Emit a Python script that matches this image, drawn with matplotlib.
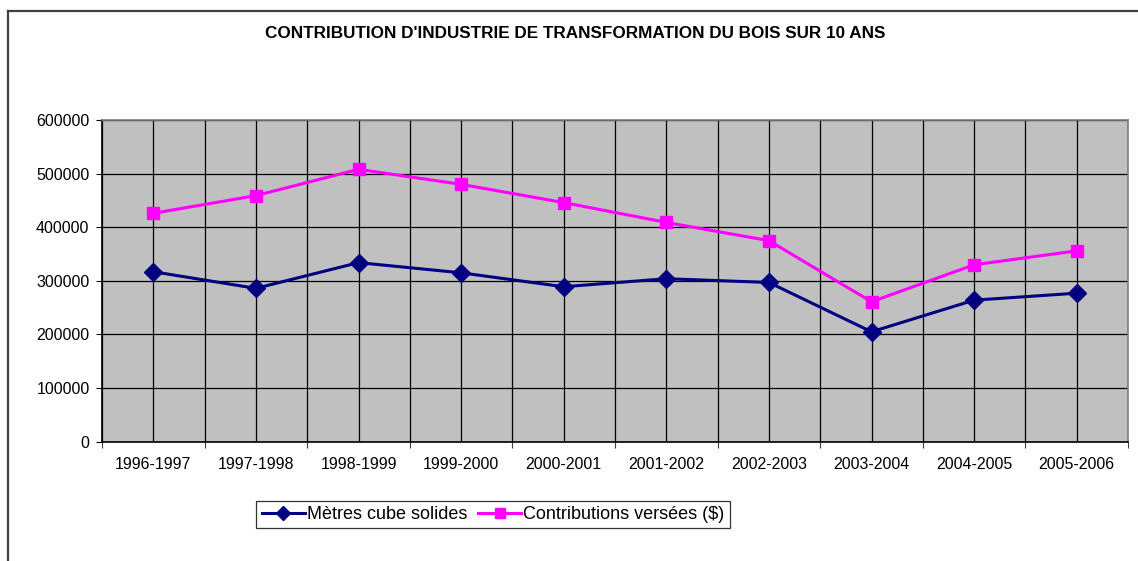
import matplotlib.pyplot as plt
from matplotlib.lines import Line2D
import numpy as np

plt.rcParams['font.family'] = ['Liberation Sans', 'DejaVu Sans']

# data
saisons = ['1996-1997', '1997-1998', '1998-1999', '1999-2000', '2000-2001',
           '2001-2002', '2002-2003', '2003-2004', '2004-2005', '2005-2006']
metres_cube = [317000, 286000, 334000, 315000, 289000, 304000, 297000, 205000, 264000, 277000]
contributions = [426000, 459000, 508000, 480000, 446000, 409000, 375000, 261000, 330000, 356000]
y_ticks = [0, 100000, 200000, 300000, 400000, 500000, 600000]

W, H = 1138, 561
fig = plt.figure(figsize=(W / 100, H / 100), dpi=100)
fig.patch.set_facecolor('white')

# chart area border (runs off the right and bottom edge)
fig.add_artist(Line2D([7.5 / W, 7.5 / W], [0, 1 - 10.5 / H], transform=fig.transFigure,
                      color='#404040', lw=1.6))
fig.add_artist(Line2D([7.5 / W, 1], [1 - 10.5 / H, 1 - 10.5 / H], transform=fig.transFigure,
                      color='#404040', lw=1.6))

ax = fig.add_axes([102 / W, 1 - 441.7 / H, 1026 / W, 321.7 / H])
ax.set_facecolor('#C0C0C0')

x = np.arange(len(saisons))
ax.plot(x, metres_cube, color='#000080', lw=2.2, marker='D', ms=9,
        label='Mètres cube solides', zorder=3)
ax.plot(x, contributions, color='#FF00FF', lw=2.2, marker='s', ms=9,
        label='Contributions versées ($)', zorder=3)

ax.set_xlim(-0.5, len(saisons) - 0.5)
ax.set_ylim(0, 600000)
ax.set_yticks(y_ticks)
ax.set_yticklabels([str(v) for v in y_ticks], fontsize=11.5)

# boundaries = major ticks, centers = minor ticks carrying the labels
ax.set_xticks(np.arange(-0.5, len(saisons), 1.0))
ax.set_xticklabels([])
ax.set_xticks(x, minor=True)
ax.set_xticklabels(saisons, minor=True, fontsize=11.5)
ax.tick_params(axis='x', which='major', direction='out', length=4, width=0.8, color='#404040')
ax.tick_params(axis='x', which='minor', length=0, pad=11)
ax.tick_params(axis='y', direction='out', length=4, width=0.8, pad=5)

ax.grid(True, which='major', axis='both', color='black', lw=0.9)
ax.grid(True, which='minor', axis='x', color='black', lw=0.9)
ax.set_axisbelow(True)
for s in ax.spines.values():
    s.set_color('#808080')
    s.set_linewidth(1.2)
ax.spines['left'].set_color('black')
ax.spines['bottom'].set_color('black')

fig.text(575 / W, 1 - 33.5 / H, "CONTRIBUTION D'INDUSTRIE DE TRANSFORMATION DU BOIS SUR 10 ANS",
         ha='center', va='center', fontsize=12.3, fontweight='bold')

leg = fig.legend(loc='center', bbox_to_anchor=(493 / W, 1 - 514.5 / H), ncol=2,
                 fontsize=13, frameon=True, fancybox=False, handlelength=2.4,
                 handletextpad=0.1, columnspacing=0.6, borderpad=0.3,
                 borderaxespad=0)
leg.get_frame().set_edgecolor('black')
leg.get_frame().set_linewidth(0.9)
for h in leg.legend_handles:
    h.set_markersize(7)

fig.savefig('out.png', dpi=100)
